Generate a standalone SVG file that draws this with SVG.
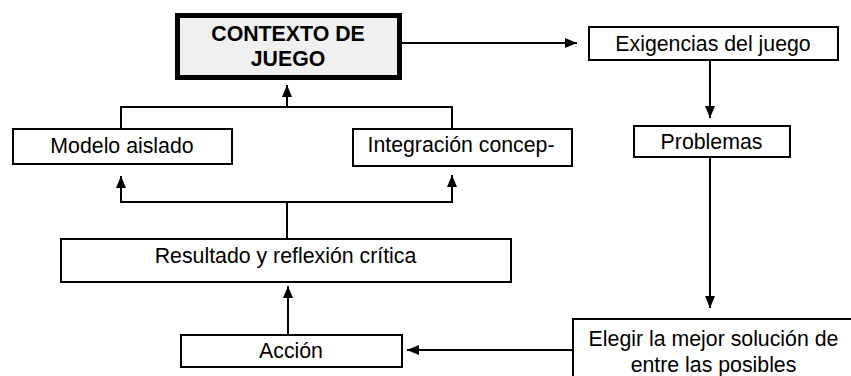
<svg xmlns="http://www.w3.org/2000/svg" width="851" height="376" viewBox="0 0 851 376">
<style>
.box{fill:#fff;stroke:#000;stroke-width:2}
.main{fill:#f0f0f0;stroke:#000;stroke-width:5}
.t{font-family:"Liberation Sans",Arial,sans-serif;font-size:21.3px;fill:#000;text-anchor:middle}
.b{font-weight:bold}
.c{fill:none;stroke:#000;stroke-width:2}
</style>
<defs>
<marker id="ah" markerUnits="userSpaceOnUse" markerWidth="12" markerHeight="10" refX="12" refY="5" orient="auto">
<path d="M0,0 L12,5 L0,10 Z" fill="#000"/>
</marker>
</defs>
<rect width="851" height="376" fill="#fff"/>
<g id="connectors">
<line class="c" x1="402" y1="43" x2="577" y2="43" marker-end="url(#ah)"/>
<line class="c" x1="710" y1="60" x2="710" y2="118" marker-end="url(#ah)"/>
<line class="c" x1="710" y1="157" x2="710" y2="308" marker-end="url(#ah)"/>
<line class="c" x1="572" y1="350" x2="407" y2="350" marker-end="url(#ah)"/>
<line class="c" x1="288" y1="334" x2="288" y2="286" marker-end="url(#ah)"/>
<polyline class="c" points="287,239 287,202"/>
<polyline class="c" points="121,176 121,202 452,202 452,175"/>
<line class="c" x1="121" y1="200" x2="121" y2="176" marker-end="url(#ah)"/>
<line class="c" x1="452" y1="200" x2="452" y2="175" marker-end="url(#ah)"/>
<polyline class="c" points="121,128 121,107 452,107 452,128"/>
<line class="c" x1="287" y1="107" x2="287" y2="85" marker-end="url(#ah)"/>
</g>
<g id="contexto">
<rect class="main" x="177.5" y="15.5" width="222" height="62"/>
<text class="t b" x="288" y="41">CONTEXTO DE</text>
<text class="t b" x="288" y="66">JUEGO</text>
</g>
<g id="exigencias">
<rect class="box" x="589" y="27" width="249" height="33"/>
<text class="t" x="713" y="51">Exigencias del juego</text>
</g>
<g id="problemas">
<rect class="box" x="634" y="126" width="156" height="31"/>
<text class="t" x="711.5" y="149">Problemas</text>
</g>
<g id="elegir">
<rect class="box" x="573" y="319" width="290" height="70"/>
<text class="t" x="713.5" y="346">Elegir la mejor solución de</text>
<text class="t" x="713.5" y="372">entre las posibles</text>
</g>
<g id="accion">
<rect class="box" x="181" y="335" width="221" height="32"/>
<text class="t" x="291" y="358">Acción</text>
</g>
<g id="resultado">
<rect class="box" x="61" y="239" width="450" height="43"/>
<text class="t" x="285.5" y="263">Resultado y reflexión crítica</text>
</g>
<g id="modelo">
<rect class="box" x="13" y="129" width="219" height="35"/>
<text class="t" x="122" y="153">Modelo aislado</text>
</g>
<g id="integracion">
<rect class="box" x="353" y="129" width="219" height="37"/>
<text class="t" x="461" y="152">Integración concep-</text>
</g>
</svg>
